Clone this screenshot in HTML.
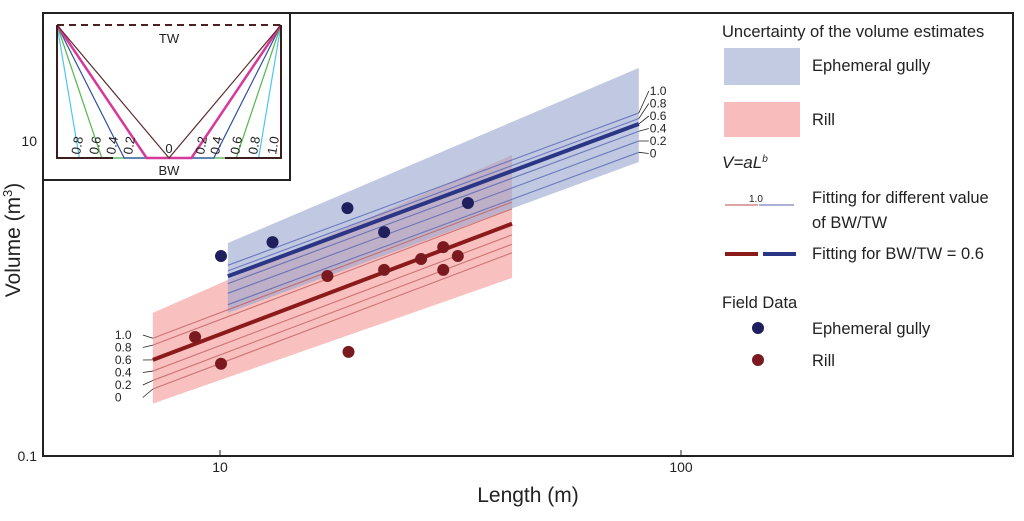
<!DOCTYPE html>
<html><head><meta charset="utf-8"><style>
body{margin:0;background:#fff}
svg{display:block;font-family:"Liberation Sans",sans-serif}
</style></head><body>
<svg id="c" width="1024" height="521" viewBox="0 0 1024 521" xmlns="http://www.w3.org/2000/svg">
<rect x="43" y="13" width="970" height="443" fill="#fff" stroke="#222" stroke-width="2"/>
<g id="bands"></g>
<g id="lines"></g>
<g id="pts"></g>
<g id="axes"></g>
<g id="inset"></g>
<g id="legend" font-size="16.5" fill="#222">
  <text x="722" y="37">Uncertainty of the volume estimates</text>
  <rect x="724" y="48" width="76" height="37" fill="#c3cbe2"/>
  <text x="812" y="71">Ephemeral gully</text>
  <rect x="724" y="102" width="76" height="35" fill="#f8bcbc"/>
  <text x="812" y="125">Rill</text>
  <text x="722" y="168" font-style="italic" font-size="17">V=aL<tspan font-size="10" dy="-6">b</tspan></text>
  <line x1="725" y1="205" x2="758" y2="205" stroke="#c87070" stroke-width="1.2"/>
  <line x1="759" y1="205" x2="794" y2="205" stroke="#7a80c0" stroke-width="1.2"/>
  <text x="749" y="202" font-size="10">1.0</text>
  <text x="812" y="203">Fitting for different value</text>
  <text x="812" y="228">of BW/TW</text>
  <line x1="725" y1="254" x2="758" y2="254" stroke="#8b1a1a" stroke-width="4"/>
  <line x1="763" y1="254" x2="796" y2="254" stroke="#2a3585" stroke-width="4"/>
  <text x="812" y="259">Fitting for  BW/TW = 0.6</text>
  <text x="722" y="308">Field Data</text>
  <circle cx="758" cy="328" r="6" fill="#1e1f5c"/>
  <text x="812" y="334">Ephemeral gully</text>
  <circle cx="758" cy="360" r="6" fill="#7a1a20"/>
  <text x="812" y="366">Rill</text>
</g>
</svg>
<script>
// ---- data ----
const gullyLength = [10.05, 13.0, 18.9, 22.7, 34.5];
const gullyVolume = [1.86, 2.28, 3.75, 2.64, 4.04];
const rillLength = [8.83, 10.05, 17.1, 22.7, 27.3, 30.5, 30.5, 32.8, 19.0];
const rillVolume = [0.57, 0.385, 1.39, 1.52, 1.78, 2.12, 1.52, 1.86, 0.458];
const ratioLabels = ["1.0", "0.8", "0.6", "0.4", "0.2", "0"];
const gullyA = [0.128, 0.118, 0.109, 0.098, 0.085, 0.072];
const gullyB = 1.085;
const rillA = [0.063, 0.057, 0.0459, 0.039, 0.034, 0.030];
const rillB = 1.11;
const gullyRange = [10.4, 81];
const rillRange = [7.15, 43];
const gullyBandTop = [2.25, 29.1], gullyBandBottom = [0.81, 7.36];
const rillBandTop = [0.81, 8.15], rillBandBottom = [0.215, 1.35];
const xTicks = [10, 100], yTicks = [0.1, 10];

const NS = "http://www.w3.org/2000/svg";
const X = L => 220 + 461 * Math.log10(L / 10);
const Y = V => 141 - 157.5 * Math.log10(V / 10);
function mk(tag, attrs, parent, txt) {
  const e = document.createElementNS(NS, tag);
  for (const k in attrs) e.setAttribute(k, attrs[k]);
  if (txt !== undefined) e.textContent = txt;
  document.getElementById(parent).appendChild(e);
  return e;
}
function band(r, top, bot, fill, name) {
  const p = [[X(r[0]), Y(top[0])], [X(r[1]), Y(top[1])], [X(r[1]), Y(bot[1])], [X(r[0]), Y(bot[0])]];
  const e = mk("polygon", { points: p.map(q => q.join(",")).join(" "), fill: fill }, "bands");
  
  
}
band(rillRange, rillBandTop, rillBandBottom, "rgba(245,150,150,0.6)", "rill-band");
band(gullyRange, gullyBandTop, gullyBandBottom, "rgba(150,165,205,0.6)", "gully-band");
function fits(A, b, r, thin, bold, name, labelSide) {
  A.forEach((a, i) => {
    const isBold = ratioLabels[i] === "0.6";
    const e = mk("line", { x1: X(r[0]), y1: Y(a * Math.pow(r[0], b)), x2: X(r[1]), y2: Y(a * Math.pow(r[1], b)),
      stroke: isBold ? bold : thin, "stroke-width": isBold ? 4 : 1.1 }, "lines");
    
    
    const ly = Y(a * Math.pow(r[labelSide], b));
    const lx = X(r[labelSide]);
    const ty = (labelSide ? 95 : 339) + i * 12.5;
    const tx = labelSide ? lx + 10 : lx - 30;
    const ln = mk("line", { x1: lx, y1: ly, x2: labelSide ? tx : tx + 20, y2: ty - 4, stroke: "#222", "stroke-width": 0.8 }, "lines");
    
    
    const t = mk("text", { x: tx + (labelSide ? 1 : -8), y: ty, "font-size": 12, fill: "#222" }, "lines", ratioLabels[i]);
    
    
  });
}
fits(rillA, rillB, rillRange, "rgba(190,90,90,0.75)", "#8b1a1a", "rill", 0);
fits(gullyA, gullyB, gullyRange, "rgba(80,95,175,0.75)", "#2a3585", "gully", 1);
gullyLength.forEach((L, i) => {
  const c = mk("circle", { cx: X(L), cy: Y(gullyVolume[i]), r: 6, fill: "#1e1f5c" }, "pts");
  
  
});
rillLength.forEach((L, i) => {
  const c = mk("circle", { cx: X(L), cy: Y(rillVolume[i]), r: 6, fill: "#7a1a20" }, "pts");
  
  
});
xTicks.forEach(v => {
  const l = mk("line", { x1: X(v), y1: 456, x2: X(v), y2: 450, stroke: "#222" }, "axes");
  
  
  const t = mk("text", { x: X(v), y: 472, "text-anchor": "middle", "font-size": 14, fill: "#222" }, "axes", v);
  
  
});
yTicks.forEach(v => {
  const l = mk("line", { x1: 43, y1: Y(v), x2: 49, y2: Y(v), stroke: "#222" }, "axes");
  
  
  const t = mk("text", { x: 37, y: Y(v) + 5, "text-anchor": "end", "font-size": 14, fill: "#222" }, "axes", v);
  
  
});
let t = mk("text", { x: 528, y: 502, "text-anchor": "middle", "font-size": 21, fill: "#222" }, "axes", "Length (m)");


t = mk("text", { x: 0, y: 0, "text-anchor": "middle", "font-size": 21, fill: "#222", transform: "translate(20,240) rotate(-90)" }, "axes");


t.innerHTML = 'Volume (m<tspan font-size="13" dy="-8">3</tspan><tspan dy="8">)</tspan>';
const ins = document.getElementById("inset");
ins.innerHTML = '<rect x="43" y="13" width="247" height="167" fill="#fff" stroke="#222" stroke-width="2"/>';
const ratios = [0, 0.2, 0.4, 0.6, 0.8];
const icol = ["#5a2a2a", "#d5399a", "#2f4f9f", "#55b84a", "#4cc6f0"];
const cx = 169, half = 112, by = 158, ty = 25;
ratios.slice().reverse().forEach((f, j) => {
  const i = ratios.length - 1 - j;
  const w = i === 1 ? 2.5 : 1.2;
  const l1 = mk("polyline", { points: `57,${ty} ${cx - f * half},${by} ${cx + f * half},${by} 281,${ty}`, fill: "none", stroke: icol[i], "stroke-width": w }, "inset");
  
  
});
ins.insertAdjacentHTML("beforeend",
 '<polyline points="57,25 57,158 113,158" fill="none" stroke="#3a1e1e" stroke-width="2"/>' +
 '<polyline points="281,25 281,158 225,158" fill="none" stroke="#3a1e1e" stroke-width="2"/>' +
 '<line x1="57" y1="25" x2="281" y2="25" stroke="#4a2020" stroke-width="2" stroke-dasharray="7,5"/>' +
 '<text x="169" y="43" text-anchor="middle" font-size="13" fill="#222">TW</text>' +
 '<text x="169" y="175" text-anchor="middle" font-size="13" fill="#222">BW</text>' +
 '<text x="169" y="153" text-anchor="middle" font-size="13" fill="#222">0</text>');
const labs = [["0.8", 80], ["0.6", 98], ["0.4", 115], ["0.2", 132], ["0.2", 204], ["0.4", 219], ["0.6", 239], ["0.8", 257], ["1.0", 276]];
labs.forEach(([s, x]) => {
  const e = mk("text", { x: 0, y: 0, "font-size": 13, fill: "#222", transform: `translate(${x},155) rotate(-80)` }, "inset", s);
  
  
});
</script>
</body></html>
